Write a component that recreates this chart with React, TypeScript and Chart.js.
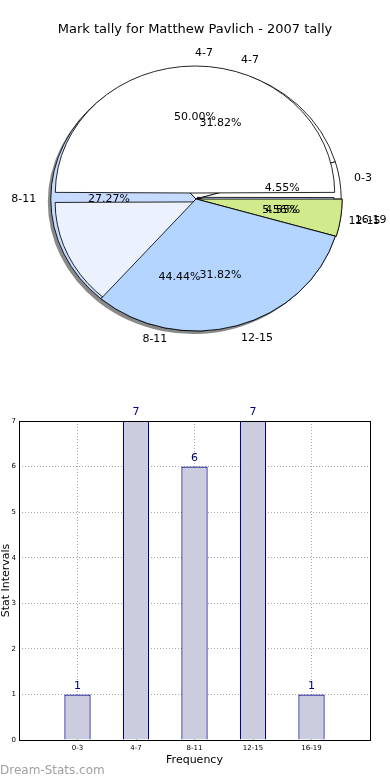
import React, { useEffect, useRef } from 'react';
import { Chart, registerables } from 'chart.js';

Chart.register(...registerables);
Chart.defaults.font.family = '"DejaVu Sans", sans-serif';

// ---------- data ----------
const TITLE = 'Mark tally for Matthew Pavlich - 2007 tally';
const categories = ['0-3', '4-7', '8-11', '12-15', '16-19'];
const tallies = [1, 7, 6, 7, 1];
// second pie that is overlaid on the first in the original picture
const overlayCategories = ['4-7', '8-11', '12-15'];
const overlayValues = [9, 8, 1];
const yMin = 0;
const yMax = 7;
const xAxisTitle = 'Frequency';
const yAxisTitle = 'Stat Intervals';
const watermark = 'Dream-Stats.com';

// ---------- styles ----------
const FONT = '"DejaVu Sans", sans-serif';
const SX = 1.1; // pie is drawn as an ellipse
const colorsA = ['#ffffff', '#ffffff', '#c6dbff', '#b3d5ff', '#d1ea8b'];
const colorsB = ['#ffffff', '#ebf2fe', '#c6dbff'];
const offsetsA = [0, 0, 0, 0, 2];
const offsetsB = [16, 20, 8];
const RADIUS_A = 132;
const RADIUS_B = 123;

const rev = <T,>(a: T[]) => a.slice().reverse();

const ellipsePlugin = {
  id: 'ellipse',
  beforeDatasetsDraw(chart: any) {
    const { ctx, chartArea: a } = chart;
    const cx = (a.left + a.right) / 2;
    ctx.save();
    ctx.translate(cx, 0);
    ctx.scale(SX, 1);
    ctx.translate(-cx, 0);
  },
  afterDatasetsDraw(chart: any) {
    chart.ctx.restore();
  },
};

function pieConfig(
  labels: string[],
  values: number[],
  colors: string[],
  offsets: number[],
  borders: number[],
  radius: number,
  extra: any[] = []
): any {
  return {
    type: 'pie',
    data: {
      labels: rev(labels),
      datasets: [
        {
          data: rev(values),
          backgroundColor: rev(colors),
          borderColor: '#000000',
          borderWidth: rev(borders),
          offset: rev(offsets),
        },
      ],
    },
    options: {
      animation: false,
      responsive: true,
      maintainAspectRatio: false,
      rotation: 90,
      radius,
      events: [],
      layout: { padding: 0 },
      plugins: { legend: { display: false }, tooltip: { enabled: false }, title: { display: false } },
    },
    plugins: [ellipsePlugin, ...extra],
  };
}

function drawPieLabels(
  ctx: CanvasRenderingContext2D,
  chart: any,
  labels: string[],
  values: number[],
  dx: number,
  dy: number,
  extraR: number
) {
  const meta = chart.getDatasetMeta(0);
  const a = chart.chartArea;
  const cx0 = (a.left + a.right) / 2;
  const total = values.reduce((s, v) => s + v, 0);
  ctx.font = '11px ' + FONT;
  ctx.fillStyle = '#000000';
  ctx.textBaseline = 'middle';
  meta.data.forEach((el: any, i: number) => {
    const idx = labels.length - 1 - i;
    const mid = (el.startAngle + el.endAngle) / 2;
    const off = (el.options.offset || 0) / 4;
    const c = Math.cos(mid);
    const s = Math.sin(mid);
    const R = el.outerRadius + extraR;
    const px = (r: number) => cx0 + SX * (el.x - cx0 + (off + r) * c) + dx;
    const py = (r: number) => el.y + (off + r) * s + dy;
    ctx.textAlign = c >= -1e-6 ? 'left' : 'right';
    ctx.fillText(labels[idx], px(1.1 * R), py(1.1 * R));
    ctx.textAlign = 'center';
    const pct = ((values[idx] / total) * 100).toFixed(2) + '%';
    ctx.fillText(pct, px(0.6 * R), py(0.6 * R));
  });
}

export default function App() {
  const shadowRef = useRef<HTMLCanvasElement>(null);
  const aRef = useRef<HTMLCanvasElement>(null);
  const bRef = useRef<HTMLCanvasElement>(null);
  const topRef = useRef<HTMLCanvasElement>(null);
  const barRef = useRef<HTMLCanvasElement>(null);

  useEffect(() => {
    const charts: Chart[] = [];
    const zerosA = categories.map(() => 0);
    const bordersA = categories.map(() => 0.8);
    const bordersB = overlayCategories.map(() => 0.8);

    charts.push(
      new Chart(
        shadowRef.current!,
        pieConfig(categories, tallies, categories.map(() => 'rgba(40,40,40,0.55)'), zerosA, zerosA, RADIUS_A)
      )
    );
    charts.push(new Chart(aRef.current!, pieConfig(categories, tallies, colorsA, offsetsA, bordersA, RADIUS_A)));
    const chartB = new Chart(
      bRef.current!,
      pieConfig(overlayCategories, overlayValues, colorsB, offsetsB, bordersB, RADIUS_B)
    );
    charts.push(chartB);

    const labelPlugin = {
      id: 'pieLabels',
      afterDraw(chart: any) {
        const ctx = chart.ctx;
        ctx.save();
        drawPieLabels(ctx, chart, categories, tallies, 0, 0, 0);
        drawPieLabels(ctx, chartB, overlayCategories, overlayValues, -1, -2, 4);
        ctx.font = '13px ' + FONT;
        ctx.textAlign = 'center';
        ctx.textBaseline = 'middle';
        ctx.fillStyle = '#000000';
        ctx.fillText(TITLE, 195, 30);
        ctx.restore();
      },
    };
    const topColors = colorsA.map((c, i) => (i >= 3 ? c : 'rgba(0,0,0,0)'));
    const topBorders = categories.map((_, i) => (i >= 3 ? 0.8 : 0));
    charts.push(
      new Chart(topRef.current!, pieConfig(categories, tallies, topColors, offsetsA, topBorders, RADIUS_A, [labelPlugin]))
    );

    const framePlugin = {
      id: 'frame',
      afterDatasetsDraw(chart: any) {
        const { ctx } = chart;
        const meta = chart.getDatasetMeta(0);
        ctx.save();
        ctx.font = '11px ' + FONT;
        ctx.fillStyle = '#000080';
        ctx.textAlign = 'center';
        ctx.textBaseline = 'bottom';
        meta.data.forEach((el: any, i: number) => {
          ctx.fillText(String(tallies[i]), el.x, el.y - 3);
        });
        ctx.restore();
      },
      afterDraw(chart: any) {
        const { ctx, chartArea: a } = chart;
        ctx.save();
        ctx.strokeStyle = '#000000';
        ctx.lineWidth = 1;
        ctx.strokeRect(Math.round(a.left) + 0.5, Math.round(a.top) + 0.5, Math.round(a.right - a.left), Math.round(a.bottom - a.top));
        ctx.restore();
      },
    };

    charts.push(
      new Chart(barRef.current!, {
        type: 'bar',
        data: {
          datasets: [
            {
              data: tallies.map((v, i) => ({ x: i, y: v })),
              backgroundColor: '#ccccdf',
              borderColor: '#00008b',
              borderWidth: 1.2,
              barPercentage: 0.45,
              categoryPercentage: 1,
            },
          ],
        },
        options: {
          animation: false,
          responsive: true,
          maintainAspectRatio: false,
          events: [],
          layout: { padding: { top: 31, right: 20, bottom: 10, left: 0 } },
          plugins: { legend: { display: false }, tooltip: { enabled: false } },
          scales: {
            x: {
              type: 'linear',
              min: -1,
              max: 5,
              offset: false,
              ticks: {
                stepSize: 1,
                autoSkip: false,
                maxRotation: 0,
                padding: 4,
                color: '#000000',
                font: { size: 7 },
                callback: (v: any) => categories[v as number] ?? '',
              },
              grid: { color: '#a8a8a8', lineWidth: 1, drawTicks: false, offset: false },
              border: { display: false, dash: [1, 2] },
              title: { display: true, text: xAxisTitle, color: '#000000', font: { size: 11 }, padding: { top: 0, bottom: 3 } },
              afterFit: (s: any) => {
                s.height = 30;
              },
            },
            y: {
              min: yMin,
              max: yMax,
              ticks: { stepSize: 1, padding: 3, color: '#000000', font: { size: 7 } },
              grid: { color: '#a8a8a8', lineWidth: 1, drawTicks: false },
              border: { display: false, dash: [1, 2] },
              title: { display: true, text: yAxisTitle, color: '#000000', font: { size: 11 }, padding: 0 },
              afterFit: (s: any) => {
                s.width = 19;
              },
            },
          },
        },
        plugins: [framePlugin],
      } as any)
    );

    return () => charts.forEach((c) => c.destroy());
  }, []);

  const abs = (left: number, top: number, width: number, height: number): React.CSSProperties => ({
    position: 'absolute',
    left,
    top,
    width,
    height,
  });

  return (
    <div
      style={{
        position: 'fixed',
        left: 0,
        top: 0,
        width: 390,
        height: 780,
        background: '#ffffff',
        overflow: 'hidden',
        fontFamily: FONT,
      }}
    >
      <div style={abs(-3, 3, 392, 398)}>
        <canvas ref={shadowRef} />
      </div>
      <div style={abs(0, 0, 392, 398)}>
        <canvas ref={aRef} />
      </div>
      <div style={abs(-1, -2, 392, 398)}>
        <canvas ref={bRef} />
      </div>
      <div style={abs(0, 0, 392, 398)}>
        <canvas ref={topRef} />
      </div>
      <div style={abs(0, 390, 390, 390)}>
        <canvas ref={barRef} />
      </div>
      <div
        style={{
          position: 'absolute',
          left: 0,
          top: 762,
          fontSize: 12,
          lineHeight: '16px',
          color: '#a0a0a0',
          fontFamily: FONT,
        }}
      >
        {watermark}
      </div>
    </div>
  );
}
